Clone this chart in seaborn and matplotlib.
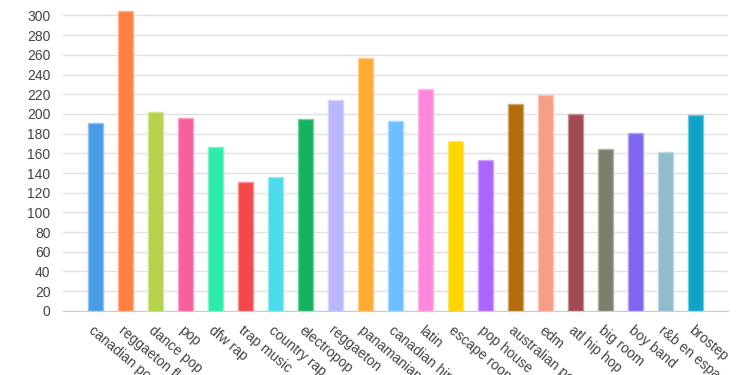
import numpy as np
import pandas as pd
import matplotlib
matplotlib.use("Agg")
import matplotlib.pyplot as plt
import seaborn as sns

# dados
genres = ["canadian pop", "reggaeton flow", "dance pop", "pop", "dfw rap",
          "trap music", "country rap", "electropop", "reggaeton", "panamanian pop",
          "canadian hip hop", "latin", "escape room", "pop house", "australian pop",
          "edm", "atl hip hop", "big room", "boy band", "r&b en espanol", "brostep"]
counts = [191, 305, 202, 196, 166, 131, 136, 195, 214, 257,
          193, 225, 173, 153, 210, 219, 200, 164, 181, 161, 199]
colors = ["#4a9be6", "#ff8040", "#b3d34a", "#f7609f", "#2eedab", "#f54848",
          "#4ddbec", "#13b35f", "#bab7ff", "#ffab33", "#6ebfff", "#ff88dd",
          "#ffd500", "#aa66ff", "#b36b0e", "#f89e84", "#a04a54", "#7a806a",
          "#8065ee", "#90bccb", "#0fa3c5"]
yticks = list(range(0, 301, 20))

df = pd.DataFrame({"genre": genres, "count": counts})

sns.set_style("white")
plt.rcParams['font.family'] = ['Liberation Sans', 'DejaVu Sans']

fig = plt.figure(figsize=(7.4, 3.75), dpi=100)
ax = fig.add_axes([0.085, 0.171, 0.899, 0.814])

sns.barplot(data=df, x="genre", y="count", hue="genre", palette=colors,
            legend=False, width=0.5, saturation=1, ax=ax, zorder=3)

# borda mais clara nas barras
for p, c in zip(ax.patches, colors):
    rgb = np.array(matplotlib.colors.to_rgb(c))
    p.set_edgecolor(rgb + (1 - rgb) * 0.4)
    p.set_linewidth(1)

ax.set_ylim(0, 310)
ax.set_xlim(-1.07, len(genres) - 1 + 1.1)
ax.set_yticks(yticks)
ax.yaxis.grid(True, color="#e0e0e0", linewidth=1, zorder=0)
ax.set_xlabel("")
ax.set_ylabel("")

for s in ["top", "right", "left"]:
    ax.spines[s].set_visible(False)
ax.spines["bottom"].set_color("#cccccc")

ax.tick_params(axis="y", length=6, color="#888888", labelsize=10,
               labelcolor="#444444", pad=3)
ax.tick_params(axis="x", length=6, color="#999999", width=1.5, labelsize=10,
               labelcolor="#444444", pad=3)
ax.set_xticks(range(len(genres)))
ax.set_xticklabels(genres, rotation=-40, ha="left", va="top",
                   rotation_mode="anchor")

fig.savefig("out.png", dpi=100)
